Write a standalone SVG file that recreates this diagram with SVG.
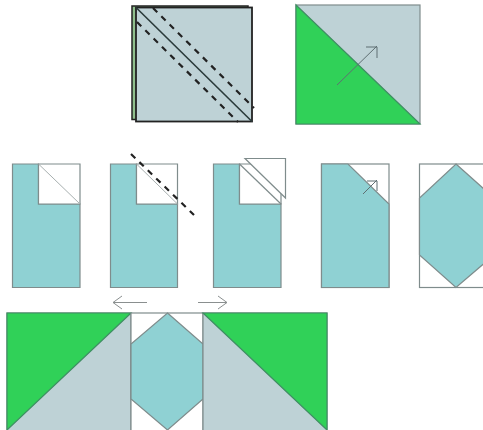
<svg xmlns="http://www.w3.org/2000/svg" width="483" height="430" viewBox="0 0 483 430">
<style>
.o{stroke:#7f8c8c;stroke-width:1.2;stroke-linejoin:miter}
.e{stroke:#3f8f63}
.g{fill:#30d158}.s{fill:#bed2d6}.t{fill:#8fd1d3}.w{fill:#fff}
.a{fill:none;stroke:#5f6f72;stroke-width:1}
.b{fill:none;stroke:#8a8f8f;stroke-width:1}
.d{fill:none;stroke:#222;stroke-width:2.200;stroke-dasharray:6 5.700}
.k{fill:none;stroke:#2a3a3a;stroke-width:1.600}
</style>
<rect width="483" height="430" fill="#fff"/>
<g id="stacked-square">
<rect x="132" y="6" width="116" height="113.500" fill="#8fbf8c" stroke="#222" stroke-width="1.500"/>
<rect x="136" y="7.500" width="116" height="114" class="s" stroke="#222" stroke-width="1.800"/>
<path class="k" d="M136 7.500 252 121.500"/>
</g>
<g id="half-square">
<rect x="296" y="5" width="124" height="119" class="s o"/>
<path d="M296 5 420 124H296Z" class="g o e"/>
</g>
<g id="block-1">
<path d="M12.500 164H38.500V204H80V287.500H12.500Z" class="t o"/>
<path d="M38.500 164H80V204H38.500Z" class="w o"/>
<path d="M38.500 164 80 204" stroke="#a8b0b0" stroke-width="1" fill="none"/>
</g>
<g id="block-2">
<path d="M110.500 164H136.500V204H177.500V287.500H110.500Z" class="t o"/>
<path d="M136.500 164H177.500V204H136.500Z" class="w o"/>
<path d="M136.500 164 177.500 204" stroke="#a8b0b0" stroke-width="1" fill="none"/>
</g>
<g id="block-3">
<path d="M213.500 164H239.500V204H281V287.500H213.500Z" class="t o"/>
<path d="M239.500 164H281V204H239.500Z" class="w o"/>
<path d="M239.500 164 281 204" class="o" fill="none"/>
<path d="M245 158.500H285.500V198Z" class="w o"/>
</g>
<g id="block-4">
<rect x="321.500" y="164" width="67.500" height="123.500" class="w o"/>
<path d="M321.500 164H348L389 204V287.500H321.500Z" class="t o"/>
</g>
<g id="block-5">
<rect x="419.500" y="164" width="75" height="123.500" class="w o"/>
<path d="M456 164 494 198V255L456 287.500 419.500 255V198Z" class="t o"/>
</g>
<g id="bottom-left">
<rect x="7" y="313" width="124" height="122" class="s o"/>
<path d="M7 313H131L7 430Z" class="g o e"/>
</g>
<g id="bottom-center">
<rect x="131" y="313" width="72" height="122" class="w o"/>
<path d="M167.500 313 203 344V399L167.500 430 131 399V344Z" class="t o"/>
</g>
<g id="bottom-right">
<rect x="203" y="313" width="124" height="122" class="s o"/>
<path d="M203 313H327V430Z" class="g o e"/>
</g>
<g id="connectors">
<path class="d" d="M137 22 238 122"/>
<path class="d" d="M153 8 254 108"/>
<path class="d" d="M131 154 194 215"/>
<path class="a" d="M337 85 377 46M366 47H377V58"/>
<path class="a" d="M363 194 377 180M367 181H377V191"/>
<path class="b" d="M147 302.500H113M122 296 113 302.500 122 309"/>
<path class="b" d="M198 302.500H227M218 296 227 302.500 218 309"/>
</g>
</svg>
